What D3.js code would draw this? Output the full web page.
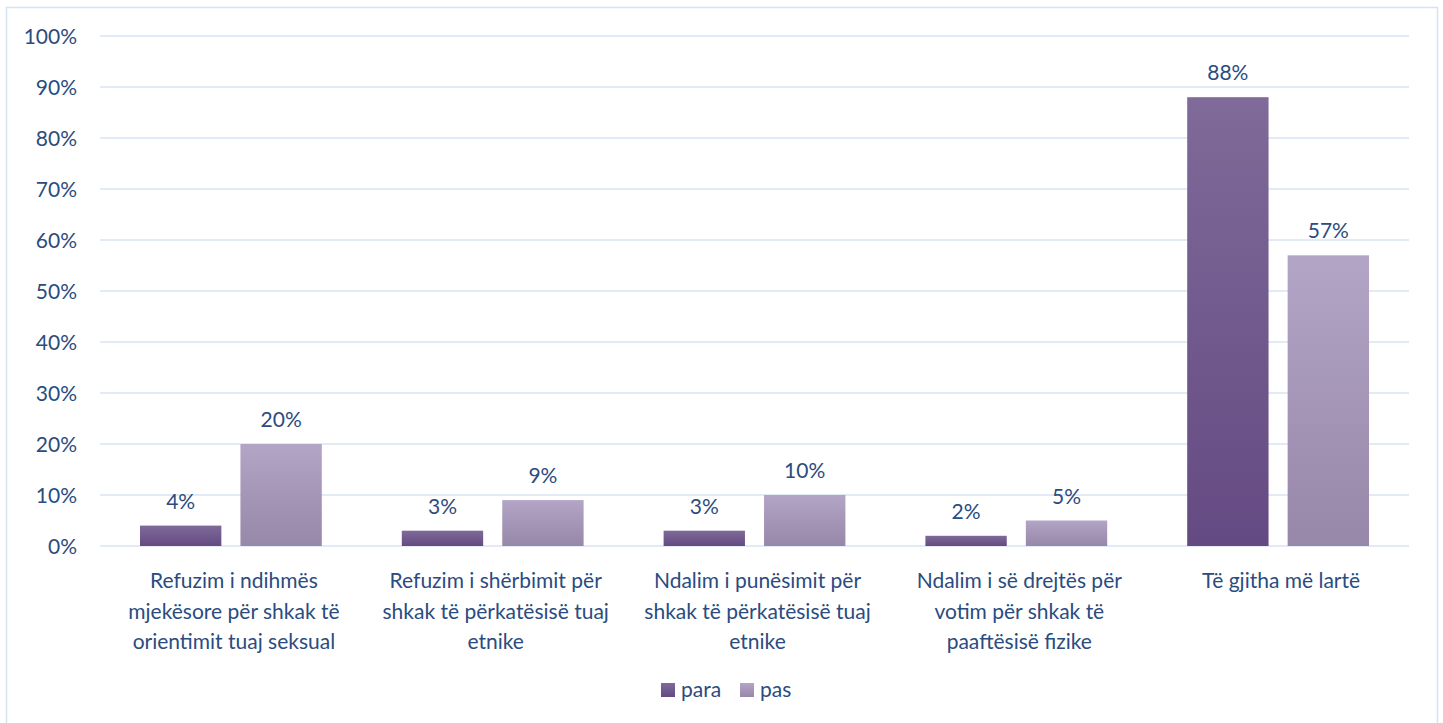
<!DOCTYPE html>
<html><head><meta charset="utf-8">
<script src="https://cdn.jsdelivr.net/npm/d3@7"></script>
<style>body{margin:0;background:#fff}svg{display:block}</style>
</head><body>
<svg id="c" width="1443" height="723"></svg>
<script>
const categories = [
  "Refuzim i ndihmës\nmjekësore për shkak të\norientimit tuaj seksual",
  "Refuzim i shërbimit për\nshkak të përkatësisë tuaj\netnike",
  "Ndalim i punësimit për\nshkak të përkatësisë tuaj\netnike",
  "Ndalim i së drejtës për\nvotim për shkak të\npaaftësisë fizike",
  "Të gjitha më lartë"
];
const seriesNames = ["para", "pas"];
const para = [4, 3, 3, 2, 88];
const pas = [20, 9, 10, 5, 57];
const yTicks = [0, 10, 20, 30, 40, 50, 60, 70, 80, 90, 100];

(function () {
const svg = d3.select("#c");
const font = "Lato, 'Open Sans', sans-serif";
const fs = 21;
const textColor = "#2a4c80";
const gridColor = "#d9e4f2";

const defs = svg.append("defs");
function grad(id, c1, c2) {
  const g = defs.append("linearGradient").attr("id", id).attr("x1", 0).attr("y1", 0).attr("x2", 0).attr("y2", 1);
  g.append("stop").attr("offset", "0%").attr("stop-color", c1);
  g.append("stop").attr("offset", "100%").attr("stop-color", c2);
}
grad("gPara", "#7f6a99", "#644a82");
grad("gPas", "#b3a5c6", "#9787a8");
const fills = ["url(#gPara)", "url(#gPas)"];

svg.append("rect").attr("x", 6.5).attr("y", 7.5).attr("width", 1431).attr("height", 740)
  .attr("fill", "none").attr("stroke", "#d5e2f3").attr("stroke-width", 1.5);

const pl = 100, pr = 1409, pt = 36, pb = 546;
const x0 = d3.scaleBand().domain(d3.range(categories.length)).range([pl, pr]);
const x1 = d3.scaleBand().domain(seriesNames).range([40, x0.bandwidth() - 40]).paddingInner(0.19);
const y = d3.scaleLinear().domain([0, 100]).range([pb, pt]);

svg.append("g").selectAll("line").data(yTicks).join("line")
  .attr("x1", pl).attr("x2", pr)
  .attr("y1", d => y(d)).attr("y2", d => y(d))
  .attr("stroke", gridColor).attr("stroke-width", 1.5);

const yAxis = d3.axisLeft(y).tickValues(yTicks).tickFormat(d => d + "%").tickSize(0).tickPadding(0);
const ya = svg.append("g").attr("transform", "translate(77,0)").call(yAxis);
ya.select(".domain").remove();
ya.selectAll("text").attr("font-family", font).attr("font-size", fs).attr("fill", textColor).attr("dy", "0.35em");

const data = categories.map((c, i) => ({ i, vals: [para[i], pas[i]] }));
const groups = svg.append("g").selectAll("g").data(data).join("g")
  .attr("transform", d => `translate(${x0(d.i)},0)`);
groups.selectAll("rect").data(d => d.vals.map((v, k) => ({ v, k }))).join("rect")
  .attr("x", d => x1(seriesNames[d.k]))
  .attr("width", x1.bandwidth())
  .attr("y", d => y(d.v))
  .attr("height", d => y(0) - y(d.v))
  .attr("fill", d => fills[d.k]);
groups.selectAll("text.lbl").data(d => d.vals.map((v, k) => ({ v, k }))).join("text")
  .attr("class", "lbl")
  .attr("x", d => x1(seriesNames[d.k]) + x1.bandwidth() / 2)
  .attr("y", d => y(d.v) - 17)
  .attr("text-anchor", "middle")
  .attr("font-family", font).attr("font-size", fs).attr("fill", textColor)
  .text(d => d.v + "%");

const xa = svg.append("g");
categories.forEach((c, i) => {
  const t = xa.append("text").attr("text-anchor", "middle")
    .attr("font-family", font).attr("font-size", fs).attr("fill", textColor);
  c.split("\n").forEach((line, j) => {
    t.append("tspan").attr("x", x0(i) + x0.bandwidth() / 2 + 3).attr("y", 588 + j * 30.5).text(line);
  });
});

const lg = svg.append("g").attr("transform", "translate(661,683)");
const legX = [0, 79];
seriesNames.forEach((n, k) => {
  lg.append("rect").attr("x", legX[k]).attr("y", 0).attr("width", 14).attr("height", 14).attr("fill", fills[k]);
  lg.append("text").attr("x", legX[k] + 20).attr("y", 14).attr("font-family", font).attr("font-size", fs)
    .attr("fill", textColor).text(n);
});
})();
</script>
</body></html>
